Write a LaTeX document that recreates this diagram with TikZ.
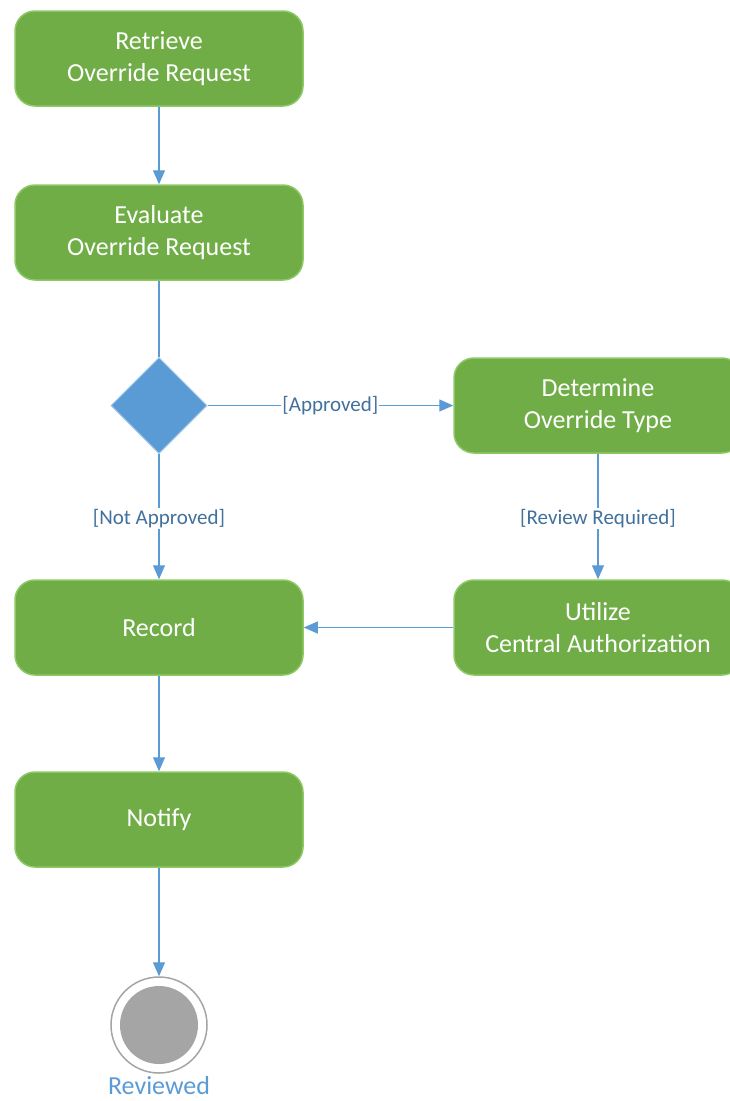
\documentclass[tikz,border=0pt]{standalone}
\usepackage{fontspec}
\setmainfont{Carlito}
\usetikzlibrary{shapes.geometric,arrows.meta}
\definecolor{actfill}{HTML}{70AD47}
\definecolor{actborder}{HTML}{8CC863}
\definecolor{decfill}{HTML}{5B9BD5}
\definecolor{decborder}{HTML}{9DC3E6}
\definecolor{linec}{HTML}{5B9BD5}
\definecolor{labc}{HTML}{41719C}
\definecolor{finalc}{HTML}{A5A5A5}
\tikzset{
  activity/.style={rectangle, rounded corners=20pt, fill=actfill, draw=actborder, line width=1.5pt,
    minimum width=288pt, minimum height=95pt, text=white, align=center,
    font=\fontsize{26}{32}\selectfont},
  decision/.style={diamond, fill=decfill, draw=decborder, line width=1pt, minimum width=96pt, minimum height=96pt, inner sep=0pt},
  flow/.style={draw=linec, line width=1.3pt, -{Triangle[length=14pt,width=12pt]}},
  plainflow/.style={draw=linec, line width=1.3pt},
  guard/.style={fill=white, text=labc, inner sep=1pt, font=\fontsize{21}{24}\selectfont},
}
\begin{document}
\begin{tikzpicture}[x=1pt,y=-1pt]
\useasboundingbox (0,0) rectangle (729,1101);
\node[activity] (retrieve) at (159,58.5) {Retrieve\\Override Request};
\node[activity] (evaluate) at (159,232.5) {Evaluate\\Override Request};
\node[decision] (dec) at (159,405.5) {};
\node[activity] (determine) at (598,405.5) {Determine\\Override Type};
\node[activity] (utilize) at (598,627.5) {Utilize\\Central Authorization};
\node[activity] (record) at (159,627.5) {Record};
\node[activity] (notify) at (159,819.5) {Notify};
\node[circle, draw=finalc, line width=1.5pt, fill=white, minimum size=96pt, inner sep=0pt] (final) at (159,1025) {};
\node[circle, fill=finalc, minimum size=78pt, inner sep=0pt] (finalin) at (final.center) {};
\node[text=linec, font=\fontsize{26}{30}\selectfont, inner sep=0pt] (rev) at (159,1086) {Reviewed};

\draw[flow] (retrieve) -- (evaluate);
\draw[plainflow] (evaluate) -- (dec);
\draw[flow] (dec) -- node[guard] {[Approved]} (determine);
\draw[flow] (dec) -- node[guard, pos=0.515] {[Not Approved]} (record);
\draw[flow] (determine) -- node[guard, pos=0.515] {[Review Required]} (utilize);
\draw[flow] (utilize) -- (record);
\draw[flow] (record) -- (notify);
\draw[flow] (notify) -- (final);
\end{tikzpicture}
\end{document}
